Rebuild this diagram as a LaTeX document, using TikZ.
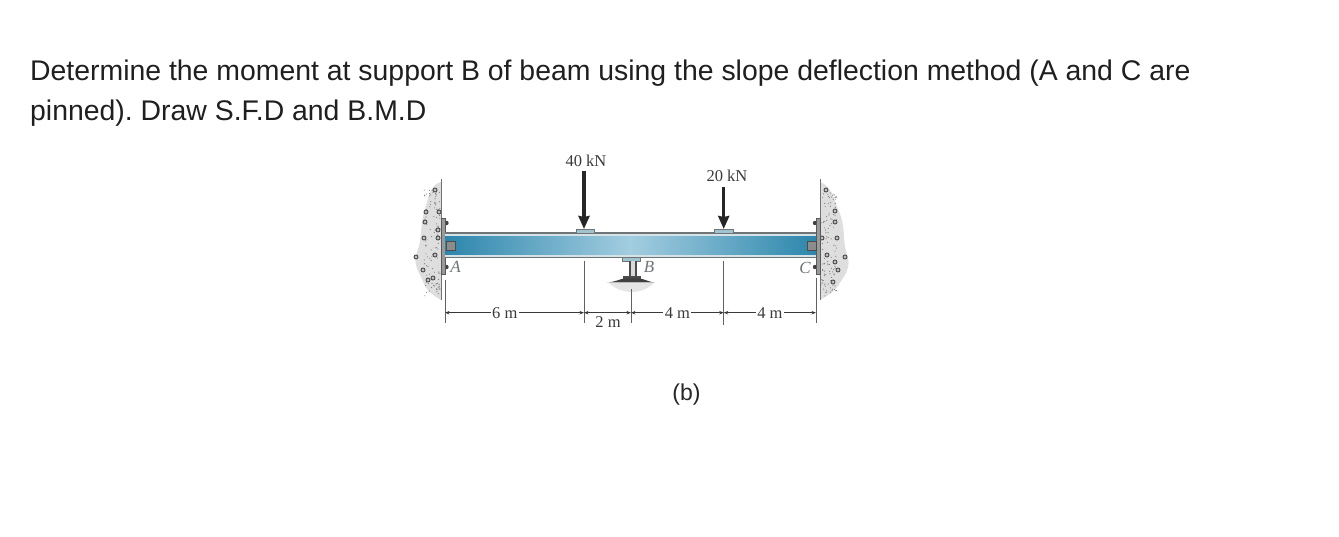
\documentclass[tikz,border=0pt]{standalone}
\usepackage{fontspec}
\setmainfont{Liberation Sans}
\newfontfamily\labelfont{Liberation Serif}
\usetikzlibrary{positioning,arrows.meta}
\definecolor{inkgray}{HTML}{3A3A3A}
\definecolor{steelgray}{HTML}{6F7476}
\definecolor{webdark}{HTML}{2C86AC}
\definecolor{weblight}{HTML}{A3CDE0}
\definecolor{flangelight}{HTML}{D5E3E8}
\definecolor{padfill}{HTML}{9FC3CF}
\definecolor{concrete}{HTML}{DEDEDE}
\frenchspacing
\tikzset{
  question/.style = {anchor=base west, inner sep=0pt, font=\fontsize{28.4}{32}\selectfont, text=black!88},
  loadlabel/.style = {inner sep=0pt, text=inkgray, font=\labelfont\fontsize{16.5}{18}\selectfont},
  pointlabel/.style = {inner sep=0pt, text=steelgray, font=\labelfont\itshape\fontsize{17}{18}\selectfont},
  dimlabel/.style = {fill=white, inner sep=1.5pt, text=inkgray, font=\labelfont\fontsize{16.5}{18}\selectfont},
  dimline/.style = {draw=inkgray, line width=0.8pt, {Stealth[length=4.5pt,width=3.5pt]}-{Stealth[length=4.5pt,width=3.5pt]}},
  extline/.style = {draw=inkgray!80, line width=0.9pt},
  loadarrow/.style = {draw=black!85, line width=3.2pt, -{Stealth[length=13pt,width=11pt,inset=1pt]}},
  pad/.style = {draw=steelgray, fill=padfill, line width=0.8pt},
  pebble/.style = {draw=black!70, fill=black!25, line width=0.9pt},
  wall/.style = {draw=steelgray, line width=1.2pt},
  plate/.style = {draw=black!65, fill=black!40, line width=0.8pt},
}
\begin{document}
\begin{tikzpicture}[x=1pt,y=-1pt]
  \useasboundingbox (0,0) rectangle (1339,537);

  % question text
  \node[question] (line1) at (30,81) {Determine the moment at support B of beam using the slope deflection method (A and C are};
  \node[question] (line2) at (30,121) {pinned). Draw S.F.D and B.M.D};
  \node[inner sep=0pt, font=\fontsize{23}{28}\selectfont, text=black!85] (fig) at (686.5,394.5) {(b)};

  % concrete
  \fill[concrete] (441,182) .. controls (430,184) and (428,200) .. (424,212)
    .. controls (420,228) and (422,240) .. (417,252) .. controls (412,266) and (420,272) .. (424,284)
    .. controls (428,292) and (434,296) .. (441,300) -- cycle;
  \fill[concrete] (820,182) .. controls (832,186) and (834,200) .. (840,214)
    .. controls (846,230) and (842,240) .. (847,254) .. controls (852,268) and (844,276) .. (838,286)
    .. controls (832,294) and (826,296) .. (820,300) -- cycle;
  \pgfmathsetseed{17}
  \foreach \i in {1,...,110} {
    \pgfmathsetmacro\dx{rand*8+432}
    \pgfmathsetmacro\dy{rnd*108+188}
    \fill[black!50] (\dx,\dy) circle (0.6pt);
    \pgfmathsetmacro\ex{rand*8+829}
    \pgfmathsetmacro\ey{rnd*108+188}
    \fill[black!50] (\ex,\ey) circle (0.6pt);
  }
  \foreach \px/\py in {435/190,426/212,439/212,425/222,438/230,424/238,438/238,435/255,416/257,423/270,428/280,433/278,
                       826/190,835/211,835/222,822/238,837/238,827/255,835/262,845/257,838/270,833/282}
    \draw[pebble] (\px,\py) circle (2pt);

  % walls and plates
  \draw[wall] (441.5,179) -- (441.5,300);
  \draw[wall] (820.5,179) -- (820.5,300);
  \fill[black!75] (446.5,223) circle (2.2pt) (446.5,267) circle (2.2pt);
  \fill[black!75] (815,223) circle (2.2pt) (815,267) circle (2.2pt);
  \draw[plate] (441,218) rectangle (445.5,274);
  \draw[plate] (816,218) rectangle (820.5,274);

  % beam
  \fill[flangelight] (445,233) rectangle (816,258);
  \shade[left color=webdark, right color=webdark, middle color=weblight] (445,237) rectangle (816,255);
  \draw[steelgray, line width=1.3pt] (445,233) -- (816,233) (445,257.5) -- (816,257.5);
  \draw[black!70, fill=black!45, line width=0.8pt] (446,241) rectangle (455,250);
  \draw[black!70, fill=black!45, line width=0.8pt] (807,241) rectangle (816,250);

  % loads
  \draw[pad] (576,229.5) rectangle (594.5,233);
  \draw[pad] (714,229.5) rectangle (733,233);
  \node[loadlabel] (p40) at (586,161) {40 kN};
  \node[loadlabel] (p20) at (727,176) {20 kN};
  \coordinate (p40top) at (584,171);
  \coordinate[below=58pt of p40top] (p40tip);
  \coordinate (p20top) at (723.7,187);
  \coordinate[below=42pt of p20top] (p20tip);
  \draw[loadarrow] (p40top) -- (p40tip);
  \draw[loadarrow] (p20top) -- (p20tip);

  % support B
  \fill[black!10] (609,283) .. controls (622,295) and (642,295) .. (654,283) -- cycle;
  \draw[steelgray, fill=padfill, line width=0.8pt] (622.5,257.5) rectangle (640,261);
  \fill[black!70] (629,261) rectangle (636.5,277);
  \fill[black!15] (631,261) rectangle (634.5,277);
  \fill[black!70] (623,276) rectangle (641,279);
  \fill[black!75] (607,282.5) .. controls (615,282) and (620,279) .. (624,278.5) -- (640,278.5) .. controls (644,279) and (649,282) .. (655,282.5) -- cycle;

  % labels
  \node[pointlabel] (a) at (455.5,267) {A};
  \node[pointlabel] (b) at (649,267) {B};
  \node[pointlabel] (c) at (805,268) {C};

  % dimensions
  \coordinate (a0) at (445,280);   \coordinate (a1) at (445,323);
  \coordinate (p0) at (584,261);   \coordinate (p1) at (584,323);
  \coordinate (b0) at (631,289);   \coordinate (b1) at (631,323);
  \coordinate (q0) at (723.7,261); \coordinate (q1) at (723.7,325);
  \coordinate (c0) at (816,278);   \coordinate (c1) at (816,323);
  \foreach \u/\v in {a0/a1,p0/p1,b0/b1,q0/q1,c0/c1}
    \draw[extline] (\u) -- (\v);
  \coordinate (da) at (445,312.7);
  \coordinate (dp) at (584,312.7);
  \coordinate (db) at (631,312.7);
  \coordinate (dq) at (723.7,312.7);
  \coordinate (dc) at (816,312.7);
  \draw[dimline] (da) -- node[dimlabel, pos=0.43] (d6) {6 m} (dp);
  \draw[dimline] (dp) -- (db);
  \node[inner sep=0pt, text=inkgray, font=\labelfont\fontsize{16.5}{18}\selectfont] (d2) at (608,322) {2 m};
  \draw[dimline] (db) -- node[dimlabel, pos=0.5] (d4a) {4 m} (dq);
  \draw[dimline] (dq) -- node[dimlabel, pos=0.5] (d4b) {4 m} (dc);
\end{tikzpicture}
\end{document}
